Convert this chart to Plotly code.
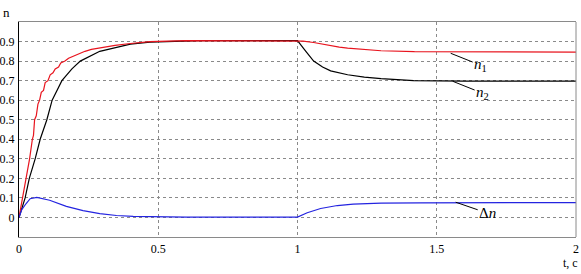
import plotly.graph_objects as go

# ---- data ----
t_n1 = [0, 0.013, 0.025, 0.038, 0.048, 0.052, 0.056, 0.062, 0.068, 0.074, 0.080, 0.088, 0.094,
        0.104, 0.112, 0.122, 0.130, 0.142, 0.150, 0.165, 0.178, 0.195, 0.215, 0.237, 0.26,
        0.30, 0.345, 0.40, 0.47, 0.6, 1.0, 1.02, 1.058, 1.09, 1.119, 1.15, 1.18, 1.24, 1.30,
        1.42, 1.6, 2.0]
n1 = [0, 0.10, 0.20, 0.30, 0.40, 0.42, 0.50, 0.52, 0.58, 0.60, 0.64, 0.65, 0.69,
      0.70, 0.73, 0.74, 0.76, 0.77, 0.79, 0.80, 0.815, 0.825, 0.84, 0.85, 0.86,
      0.87, 0.88, 0.89, 0.90, 0.905, 0.905, 0.902, 0.895, 0.886, 0.878, 0.871, 0.866, 0.858, 0.853,
      0.848, 0.847, 0.846]

t_n2 = [0, 0.012, 0.022, 0.037, 0.058, 0.076, 0.10, 0.119, 0.154, 0.19, 0.22, 0.29, 0.35,
        0.40, 0.47, 0.55, 0.65, 1.0, 1.01, 1.03, 1.058, 1.09, 1.119, 1.15, 1.18, 1.24, 1.30,
        1.417, 1.6, 2.0]
n2 = [0, 0.05, 0.10, 0.20, 0.30, 0.40, 0.50, 0.60, 0.70, 0.76, 0.80, 0.85, 0.872,
      0.887, 0.897, 0.902, 0.905, 0.905, 0.885, 0.85, 0.80, 0.77, 0.75, 0.738, 0.73, 0.718, 0.71,
      0.70, 0.697, 0.697]

t_dn = [0, 0.01, 0.025, 0.04, 0.064, 0.11, 0.17, 0.23, 0.29, 0.35, 0.41, 0.47, 0.6, 1.0,
        1.035, 1.083, 1.143, 1.2, 1.30, 1.44, 2.0]
dn = [0, 0.04, 0.07, 0.096, 0.103, 0.088, 0.057, 0.035, 0.02, 0.01, 0.006, 0.004, 0.002, 0.002,
      0.024, 0.046, 0.061, 0.068, 0.073, 0.075, 0.076]

x_ticks = [0, 0.5, 1, 1.5, 2]
x_tick_text = ["0", "0.5", "1", "1.5", "2"]
y_ticks = [0, 0.1, 0.2, 0.3, 0.4, 0.5, 0.6, 0.7, 0.8, 0.9]
y_tick_text = ["0", "0.1", "0.2", "0.3", "0.4", "0.5", "0.6", "0.7", "0.8", "0.9"]

SERIF = "'Times New Roman', 'Liberation Serif', Tinos, 'DejaVu Serif', serif"
GRID = "#8a8a8a"

fig = go.Figure()
fig.add_trace(go.Scatter(x=t_n2, y=n2, mode="lines", line=dict(color="black", width=1.2)))
fig.add_trace(go.Scatter(x=t_n1, y=n1, mode="lines", line=dict(color="#e8141e", width=1.2)))
fig.add_trace(go.Scatter(x=t_dn, y=dn, mode="lines", line=dict(color="#2424e0", width=1.2)))

fig.update_layout(
    width=581, height=274,
    margin=dict(l=19, r=5, t=22, b=37, autoexpand=False),
    paper_bgcolor="white", plot_bgcolor="white",
    showlegend=False,
    font=dict(family=SERIF, size=12, color="black"),
    xaxis=dict(range=[0, 2], tickvals=x_ticks, ticktext=x_tick_text, automargin=False,
               showgrid=True, gridcolor=GRID, griddash="dot", gridwidth=1,
               zeroline=False, showline=True, linecolor=GRID, linewidth=1, mirror=True,
               ticks="", ticklabelstandoff=1,
               tickfont=dict(family=SERIF, size=12)),
    yaxis=dict(range=[-0.1, 1.0], tickvals=y_ticks, ticktext=y_tick_text, automargin=False,
               showgrid=True, gridcolor=GRID, griddash="dot", gridwidth=1,
               zeroline=False, showline=True, linecolor="black", linewidth=1.3, mirror=False,
               ticks="", ticklabelstandoff=1,
               tickfont=dict(family=SERIF, size=12)),
)

# right border (gray)
fig.add_shape(type="line", xref="paper", yref="paper", x0=1, x1=1, y0=0, y1=1,
              line=dict(color=GRID, width=1))

# axis titles
fig.add_annotation(text="n", xref="paper", yref="paper", x=0, xshift=-13, y=1.0, yshift=10,
                   xanchor="center", yanchor="middle", showarrow=False,
                   font=dict(family=SERIF, size=13))
fig.add_annotation(text="t, c", xref="paper", yref="paper", x=1, xshift=4, y=0, yshift=-26,
                   xanchor="right", yanchor="middle", showarrow=False,
                   font=dict(family=SERIF, size=12))

# curve labels with leader lines
for (xt, yt, txt, ax, ay) in [
    (1.55, 0.84, "<i>n</i><sub>1</sub>", 30, 12),
    (1.557, 0.697, "<i>n</i><sub>2</sub>", 30, 12),
    (1.568, 0.078, "Δ<i>n</i>", 32, 11),
]:
    fig.add_annotation(x=xt, y=yt, xref="x", yref="y", text=txt, showarrow=True,
                       arrowhead=0, arrowwidth=1, arrowcolor="black", ax=ax, ay=ay,
                       standoff=0, xanchor="center", yanchor="middle",
                       font=dict(family=SERIF, size=15))

fig.write_html("out.html", config={"displayModeBar": False},
               post_script="document.body.style.margin='0';document.body.style.overflow='hidden';")
